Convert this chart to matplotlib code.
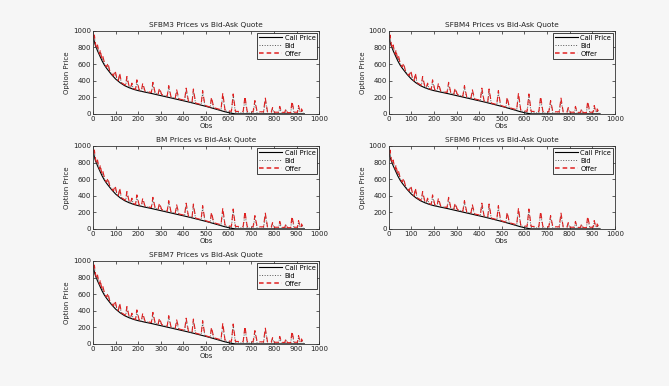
import matplotlib
matplotlib.use("Agg")
import matplotlib.pyplot as plt

# Panel titles
titles = ["SFBM3 Prices vs Bid-Ask Quote", "SFBM4 Prices vs Bid-Ask Quote",
          "BM Prices vs Bid-Ask Quote", "SFBM6 Prices vs Bid-Ask Quote",
          "SFBM7 Prices vs Bid-Ask Quote"]

# Model call price
call_obs = [0, 5, 10, 20, 30, 40, 50, 60, 80, 100, 120, 140, 160, 180, 200, 230,
            260, 300, 340, 380, 420, 460, 500, 540, 580, 610, 630, 935]
call_val = [950, 880, 830, 760, 700, 640, 590, 550, 480, 420, 375, 340, 315, 295, 280, 262,
            245, 220, 195, 170, 145, 118, 90, 60, 28, 8, 0, 0]

# Market quotes (vertices of the sawtooth)
quote_obs = [0, 3, 6, 12, 17, 20, 26, 30, 32, 38, 42, 44, 52, 60, 66, 74, 90, 98, 106, 112,
             118, 126, 144, 150, 160, 166, 172, 180, 188, 194, 204, 214, 220, 230, 258, 265,
             275, 288, 294, 304, 328, 335, 345, 364, 370, 380, 405, 412, 422, 438, 444, 454,
             478, 485, 495, 518, 524, 534, 566, 574, 584, 612, 620, 630, 664, 672, 682, 708,
             716, 726, 754, 762, 772, 788, 794, 802, 820, 826, 834, 848, 853, 860, 874, 880,
             890, 904, 909, 916, 920, 922, 928, 932]
offer_val = [960, 890, 950, 830, 790, 830, 740, 720, 770, 680, 660, 690, 600, 565, 610, 520, 460, 520, 420, 400,
             490, 375, 345, 450, 330, 315, 370, 305, 295, 410, 290, 280, 370, 275, 258, 380,
             250, 240, 310, 232, 215, 340, 205, 192, 290, 180, 165, 310, 155, 140, 300, 130,
             112, 280, 102, 82, 200, 75, 50, 250, 45, 30, 240, 30, 28, 210, 28, 25,
             160, 25, 25, 190, 22, 20, 75, 20, 20, 90, 18, 18, 60, 15, 15, 150,
             20, 20, 100, 25, 20, 60, 30, 20]
bid_val = [950, 880, 930, 815, 780, 810, 730, 710, 750, 670, 650, 675, 592, 558, 590, 510, 455, 495, 415, 393,
           465, 370, 340, 425, 325, 311, 350, 300, 290, 385, 285, 276, 345, 270, 252, 355,
           246, 236, 290, 228, 210, 315, 200, 188, 265, 175, 160, 285, 150, 135, 275, 125,
           107, 255, 97, 77, 180, 68, 42, 225, 36, 18, 215, 15, 10, 185, 10, 8,
           140, 8, 8, 165, 6, 5, 60, 5, 5, 72, 4, 4, 45, 3, 3, 130,
           5, 5, 80, 8, 5, 45, 10, 5]

bg = "#f6f6f6"
fig = plt.figure(figsize=(6.69, 3.86), dpi=100, facecolor=bg)
plt.rcParams["font.family"] = "DejaVu Sans"

positions = [(0.139, 0.705), (0.581, 0.705), (0.139, 0.407), (0.581, 0.407), (0.139, 0.109)]
w, h = 0.338, 0.215

for (l, b), title in zip(positions, titles):
    ax = fig.add_axes([l, b, w, h], facecolor=bg)
    ax.plot(call_obs, call_val, color="black", lw=0.8, label="Call Price")
    ax.plot(quote_obs, bid_val, color="#555555", lw=0.7, ls=":", label="Bid")
    ax.plot(quote_obs, offer_val, color="#e02020", lw=0.8, ls=(0, (5, 3)), label="Offer")
    ax.set_xlim(0, 1000)
    ax.set_ylim(0, 1000)
    ax.set_xticks(range(0, 1001, 100))
    ax.set_yticks(range(0, 1001, 200))
    ax.tick_params(direction="in", top=True, right=True, length=2, width=0.5,
                   labelsize=5, pad=1.5, colors="#222222")
    for s in ax.spines.values():
        s.set_linewidth(0.6)
        s.set_color("#333333")
    ax.set_title(title, fontsize=5.3, pad=2.5, color="#222222")
    ax.set_xlabel("Obs", fontsize=5, labelpad=0.5, color="#222222")
    ax.set_ylabel("Option Price", fontsize=5, labelpad=2, color="#222222")
    leg = ax.legend(loc="upper right", fontsize=4.8, handlelength=3.4, borderpad=0.3,
                    labelspacing=0.3, handletextpad=0.4, borderaxespad=0.25,
                    fancybox=False, framealpha=1)
    leg.get_frame().set_edgecolor("#222222")
    leg.get_frame().set_linewidth(0.6)
    leg.get_frame().set_facecolor(bg)
    leg.get_lines()[2].set_linewidth(1.1)
    leg.get_lines()[2].set_linestyle((0, (3, 2)))

fig.savefig("out.png", dpi=100, facecolor=bg)
